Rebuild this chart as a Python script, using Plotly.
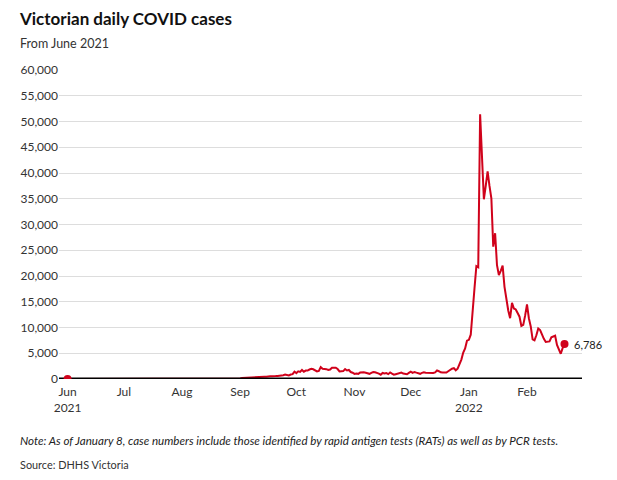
import plotly.graph_objects as go
import pandas as pd

# ---------------- data ----------------
start_date = "2021-06-01"

cases_jun = [3, 4, 1, 4, 2, 5, 1, 0, 2, 0, 2, 2, 4, 1, 0, 0, 2, 0, 0, 0,
             0, 0, 0, 0, 2, 0, 0, 0, 1, 0]
cases_jul = [0, 0, 0, 0, 0, 0, 0, 0, 0, 0, 0, 0, 0, 2, 6, 10, 19, 13, 10, 13,
             22, 14, 26, 12, 11, 8, 10, 6, 1, 2, 3]
cases_aug = [0, 3, 6, 9, 6, 11, 6, 12, 12, 20, 21, 14, 15, 21, 26, 24, 24, 22, 57, 55,
             61, 64, 71, 50, 45, 45, 79, 64, 92, 73, 76]
cases_sep = [120, 176, 208, 190, 183, 246, 246, 324, 334, 450, 392, 473, 473, 445, 423,
             514, 510, 535, 507, 567, 603, 628, 766, 733, 847, 779, 705, 867, 950, 1438]
cases_oct = [1143, 1488, 1377, 1763, 1420, 1638, 1638, 1838, 1965, 1890, 1612, 1466, 1571,
             2297, 1993, 1993, 1903, 1749, 1841, 2189, 2232, 2179, 1935, 1461, 1510, 1534,
             1923, 1656, 1750, 1355, 1221]
cases_nov = [989, 1069, 1004, 1247, 1343, 1313, 1217, 1126, 1003, 1191, 1343, 1313, 1228,
             1052, 833, 1179, 1054, 1145, 941, 1273, 1029, 827, 935, 1026, 1254, 1252, 1061,
             1007, 918, 1179]
cases_dec = [1419, 1188, 1365, 1232, 1073, 1007, 1185, 1312, 1232, 1206, 1193, 1290, 1189,
             1290, 1650, 1510, 1290, 1240, 1302, 1245, 1503, 1765, 2005, 2100, 1700, 2000,
             2800, 3767, 5137, 5919, 7442]
cases_jan = [7600, 8600, 14000, 17600, 21900, 21700, 51400, 44200, 34900, 37500, 40300,
             37500, 35100, 25700, 28300, 22100, 20200, 21000, 22000, 17900, 15500, 13300,
             11800, 14800, 13700, 13500, 12800, 12100, 10300, 10500, 12300]
cases_feb = [14500, 11800, 10200, 7700, 7500, 8500, 9800, 9500, 8600, 7800, 7200, 7200,
             7300, 8100, 8300, 8400, 6600, 5900, 4900, 6000, 6786]

tick_dates = ["2021-06-01", "2021-07-01", "2021-08-01", "2021-09-01", "2021-10-01",
              "2021-11-01", "2021-12-01", "2022-01-01", "2022-02-01"]
tick_labels = ["Jun<br>2021", "Jul", "Aug", "Sep", "Oct", "Nov", "Dec", "Jan<br>2022", "Feb"]
y_ticks = [0, 5000, 10000, 15000, 20000, 25000, 30000, 35000, 40000, 45000, 50000, 55000, 60000]

values = (cases_jun + cases_jul + cases_aug + cases_sep + cases_oct + cases_nov
          + cases_dec + cases_jan + cases_feb)
dates = pd.date_range(start_date, periods=len(values), freq="D")

# ---------------- style ----------------
RED = "#d0021b"
FONT = "Lato, 'Open Sans', sans-serif"
x_range = ["2021-05-27 10:00", "2022-03-02 08:00"]

fig = go.Figure()
fig.add_trace(go.Scatter(x=dates, y=values, mode="lines",
                         line=dict(color=RED, width=2), hoverinfo="skip"))
# baseline drawn above the near-zero part of the series
fig.add_trace(go.Scatter(x=x_range, y=[0, 0], mode="lines",
                         line=dict(color="black", width=3), hoverinfo="skip"))
fig.add_trace(go.Scatter(x=[dates[0], dates[-1]], y=[values[0], values[-1]],
                         mode="markers", marker=dict(size=8, color=RED),
                         hoverinfo="skip"))

# the page places the figure 8px from the top-left corner
fig.update_layout(
    width=609, height=472,
    margin=dict(l=46, r=35, t=62, b=101),
    plot_bgcolor="white", paper_bgcolor="white",
    showlegend=False,
    font=dict(family=FONT, size=12, color="#333333"),
    xaxis=dict(type="date", range=x_range, tickvals=tick_dates, ticktext=tick_labels,
               showgrid=False, zeroline=False, showline=False, ticks="",
               ticklabelstandoff=4,
               tickfont=dict(size=12, color="#333333")),
    yaxis=dict(range=[0, 60000], tickvals=y_ticks, tickformat=",",
               showgrid=True, gridcolor="#dddddd", gridwidth=1,
               zeroline=False, showline=False, ticks="",
               tickfont=dict(size=12, color="#333333")),
)

def px_x(px):
    return (px - 54) / 528.0

def px_y(py):
    return (379 - py) / 309.0

fig.add_annotation(text="<b>Victorian daily COVID cases</b>", xref="paper", yref="paper",
                   x=px_x(13), y=px_y(18.5), xanchor="left", yanchor="middle",
                   borderpad=0, showarrow=False,
                   font=dict(size=17, color="#111111", family=FONT))
fig.add_annotation(text="From June 2021", xref="paper", yref="paper",
                   x=px_x(13), y=px_y(43), xanchor="left", yanchor="middle",
                   showarrow=False, font=dict(size=12.5, color="#333333", family=FONT))
fig.add_annotation(text="<i>Note: As of January 8, case numbers include those identified by rapid antigen tests (RATs) as well as by PCR tests.</i>",
                   xref="paper", yref="paper", x=px_x(13), y=px_y(440),
                   xanchor="left", yanchor="middle", showarrow=False,
                   font=dict(size=11.6, color="#222222", family=FONT))
fig.add_annotation(text="Source: DHHS Victoria", xref="paper", yref="paper",
                   x=px_x(13), y=px_y(464), xanchor="left", yanchor="middle",
                   showarrow=False, font=dict(size=10.9, color="#333333", family=FONT))
fig.add_annotation(text=f"{values[-1]:,}", x=dates[-1], y=values[-1],
                   xanchor="left", yanchor="middle", xshift=7, showarrow=False,
                   font=dict(size=11, color="#222222", family=FONT))

fig.write_html("out.html")
